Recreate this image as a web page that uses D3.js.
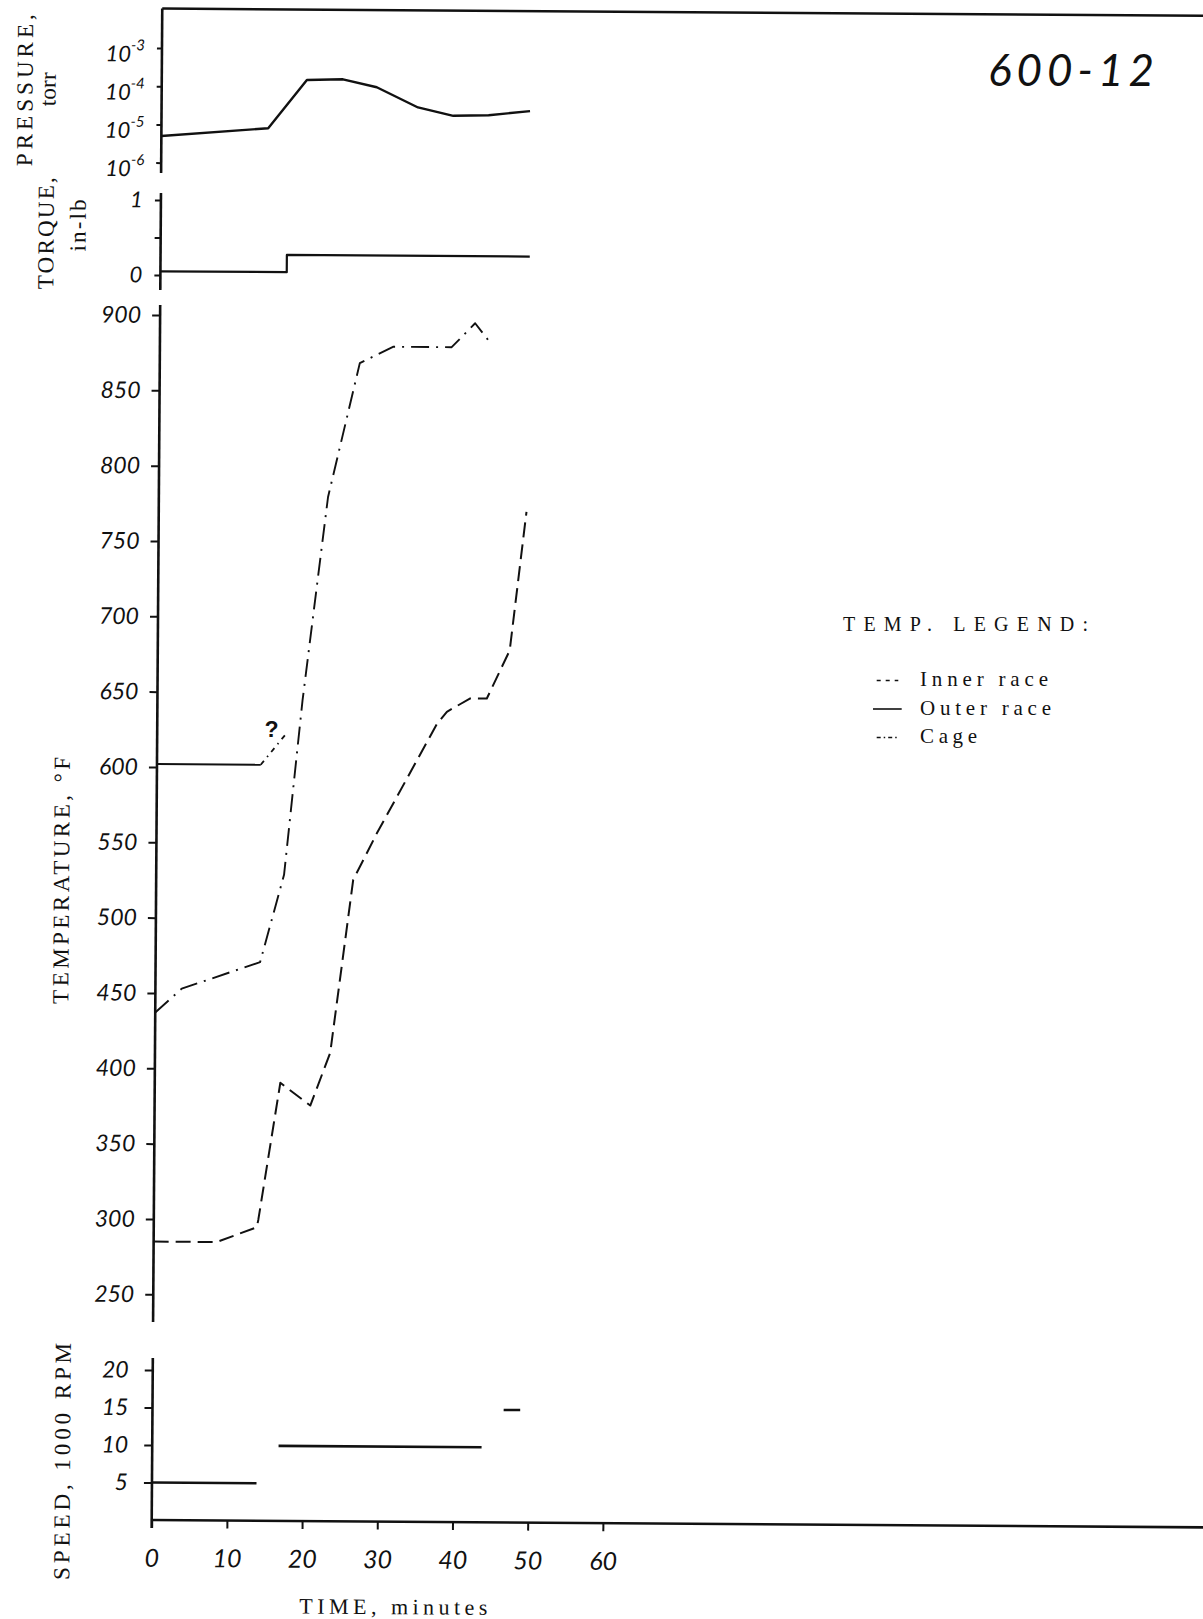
<!DOCTYPE html>
<html>
<head>
<meta charset="utf-8">
<script src="https://cdnjs.cloudflare.com/ajax/libs/d3/7.8.5/d3.min.js"></script>
<style>
  body { margin: 0; background: #fff; }
  svg { display: block; background: #fff; }
  .tick text { font-family: Lato, "Liberation Sans", sans-serif; font-style: italic; font-weight: 400; fill: #111; }
  .title { font-family: "Liberation Serif", serif; fill: #111; }
</style>
</head>
<body>
<svg id="chart" width="1203" height="1619"></svg>
<script>
// data {{{ //

const timeTicks = [0, 10, 20, 30, 40, 50, 60];

const pressureTicks = [1e-3, 1e-4, 1e-5, 1e-6];
const pressureTime = [0, 14.2, 19.3, 24.1, 28.6, 34.1, 38.8, 43.5, 49.0];
const pressureTorr = [5.0e-6, 8.3e-6, 1.55e-4, 1.64e-4, 1.03e-4, 3.1e-5, 1.9e-5, 2.0e-5, 2.6e-5];

const torqueTicks = [0, 0.5, 1];
const torqueTime = [0, 16.8, 16.8, 49.1];
const torqueValue = [0.05, 0.05, 0.28, 0.28];

const tempTicks = [250, 300, 350, 400, 450, 500, 550, 600, 650, 700, 750, 800, 850, 900];
const innerTime = [0, 8.4, 13.7, 13.9, 16.7, 20.7, 23.3, 26.2, 29.3, 37.2, 38.5, 41.6, 43.8, 46.8, 48.9];
const innerTemp = [285, 285, 295, 300, 391, 376, 411, 526, 557, 630, 638, 647, 647, 679, 771];
const outerTime = [0, 13.8];
const outerTemp = [602, 602];
const outerDoubtTime = [13.8, 17.2];
const outerDoubtTemp = [602, 623];
const cageTime = [0, 3.5, 13.9, 17.0, 19.3, 22.5, 26.6, 31.0, 38.8, 41.9, 44.1];
const cageTemp = [437, 453, 471, 529, 645, 780, 869, 880, 880, 896, 882];

const speedTicks = [5, 10, 15, 20];
const speedStart = [0, 16.8, 46.7];
const speedEnd = [13.9, 43.8, 48.9];
const speedValue = [5, 10, 15];

const legendNames = ["Inner race", "Outer race", "Cage"];

// }}} data //

const svg = d3.select("#chart");
// the scanned sheet sits slightly turned
const g = svg.append("g").attr("transform", "rotate(0.4, 151.7, 1520)");

// scales {{{ //

const x = d3.scaleLinear().domain([0, 60]).range([151.7, 602.9]);
const yP = d3.scaleLog().domain([1e-6, 1e-3]).range([162.6, 48]);
const yQ = d3.scaleLinear().domain([0, 1]).range([275, 200]);
const yT = d3.scaleLinear().domain([250, 900]).range([1294.3, 315]);
const yS = d3.scaleLinear().domain([0, 20]).range([1520, 1370]);

// }}} scales //

// frame lines {{{ //

const x0 = x(0);
const frame = [
  [x0, 8.5, 1240, 8.5],      // top border
  [x0, 8.5, x0, 173],        // pressure axis
  [x0, 193, x0, 290],        // torque axis
  [x0, 305, x0, 1322],       // temperature axis
  [x0, 1358, x0, 1528],      // speed axis
  [x0, 1520, 1240, 1520]     // time axis
];
g.append("g").selectAll("line")
  .data(frame)
  .enter().append("line")
  .attr("x1", d => d[0]).attr("y1", d => d[1])
  .attr("x2", d => d[2]).attr("y2", d => d[3])
  .attr("stroke", "#111")
  .attr("stroke-width", 2.6);

// }}} frame lines //

// axes {{{ //

function styleAxis(sel, size) {
  sel.select(".domain").remove();
  sel.selectAll(".tick line").attr("stroke", "#111").attr("stroke-width", 2);
  sel.selectAll(".tick text").style("font-size", size + "px");
}

const gP = g.append("g")
  .attr("transform", `translate(${x0},0)`)
  .call(d3.axisLeft(yP).tickValues(pressureTicks).tickSize(5).tickPadding(12))
  .call(styleAxis, 22);
gP.selectAll(".tick text").attr("dy", "0.6em").text(null).each(function(d) {
  const t = d3.select(this);
  t.append("tspan").text("10");
  t.append("tspan").attr("dy", "-0.75em").style("font-size", "15px")
    .text(String(Math.round(Math.log10(d))));
});

g.append("g")
  .attr("transform", `translate(${x0},0)`)
  .call(d3.axisLeft(yQ).tickValues(torqueTicks).tickSize(6).tickPadding(12)
    .tickFormat(d => d === 0.5 ? "" : d3.format("d")(d)))
  .call(styleAxis, 22);

g.append("g")
  .attr("transform", `translate(${x0},0)`)
  .call(d3.axisLeft(yT).tickValues(tempTicks).tickSize(8).tickPadding(11))
  .call(styleAxis, 23);

g.append("g")
  .attr("transform", `translate(${x0},0)`)
  .call(d3.axisLeft(yS).tickValues(speedTicks).tickSize(8).tickPadding(16))
  .call(styleAxis, 23);

g.append("g")
  .attr("transform", `translate(0,${yS(0)})`)
  .call(d3.axisBottom(x).tickValues(timeTicks).tickSize(8).tickPadding(21))
  .call(styleAxis, 25);

// }}} axes //

// axis titles {{{ //

const vTitles = [
  { text: "PRESSURE,", cx: 15, cy: 91, len: 152 },
  { text: "torr", cx: 38, cy: 90, len: 34 },
  { text: "TORQUE,", cx: 37, cy: 234, len: 112 },
  { text: "in-lb", cx: 69, cy: 226, len: 52 },
  { text: "TEMPERATURE, \u00b0F", cx: 57, cy: 881, len: 247 },
  { text: "SPEED, 1000 RPM", cx: 62, cy: 1462, len: 237 }
];
g.append("g").selectAll("text")
  .data(vTitles)
  .enter().append("text")
  .attr("class", "title")
  .attr("transform", d => `translate(${d.cx},${d.cy}) rotate(-90)`)
  .attr("text-anchor", "middle")
  .attr("dy", "0.33em")
  .attr("textLength", d => d.len)
  .attr("lengthAdjust", "spacing")
  .style("font-size", "23px")
  .text(d => d.text);

g.append("text")
  .attr("class", "title")
  .attr("x", 394).attr("y", 1612.5)
  .attr("text-anchor", "middle")
  .attr("textLength", 188)
  .attr("lengthAdjust", "spacing")
  .style("font-size", "22px")
  .text("TIME, minutes");

// }}} axis titles //

// curves {{{ //

function curve(ys, ts, vs) {
  return d3.line().x(d => x(d[0])).y(d => ys(d[1]))(d3.zip(ts, vs));
}

const marks = g.append("g").attr("fill", "none").attr("stroke", "#111")
  .attr("stroke-linejoin", "round");

marks.append("path")
  .attr("d", curve(yP, pressureTime, pressureTorr))
  .attr("stroke-width", 2.4);

marks.append("path")
  .attr("d", curve(yQ, torqueTime, torqueValue))
  .attr("stroke-width", 2.2);

marks.append("path")
  .attr("d", curve(yT, innerTime, innerTemp))
  .attr("stroke-width", 2)
  .attr("stroke-dasharray", "15,7");

marks.append("path")
  .attr("d", curve(yT, outerTime, outerTemp))
  .attr("stroke-width", 2);

marks.append("path")
  .attr("d", curve(yT, outerDoubtTime, outerDoubtTemp))
  .attr("stroke-width", 1.8)
  .attr("stroke-dasharray", "5,5,1.5,5");

marks.append("path")
  .attr("d", curve(yT, cageTime, cageTemp))
  .attr("stroke-width", 1.9)
  .attr("stroke-dasharray", "18,7,2,7");

marks.selectAll("line.speed")
  .data(d3.zip(speedStart, speedEnd, speedValue))
  .enter().append("line")
  .attr("class", "speed")
  .attr("x1", d => x(d[0])).attr("x2", d => x(d[1]))
  .attr("y1", d => yS(d[2])).attr("y2", d => yS(d[2]))
  .attr("stroke-width", 2.6);

g.append("text")
  .attr("x", x(15.2)).attr("y", yT(620.4))
  .attr("text-anchor", "middle")
  .style("font-family", "Liberation Sans, sans-serif")
  .style("font-weight", "bold")
  .style("font-size", "23px")
  .attr("fill", "#111")
  .text("?");

// }}} curves //

// legend and run number {{{ //

svg.append("text")
  .attr("x", 988).attr("y", 86)
  .attr("textLength", 166)
  .attr("lengthAdjust", "spacing")
  .style("font-family", "Lato, Liberation Sans, sans-serif")
  .style("font-style", "italic")
  .style("font-weight", 400)
  .style("font-size", "44px")
  .attr("fill", "#111")
  .text("600-12");

const legend = svg.append("g").attr("transform", "translate(843,0)");
legend.append("text")
  .attr("class", "title")
  .attr("x", 0).attr("y", 631)
  .attr("textLength", 245)
  .attr("lengthAdjust", "spacing")
  .style("font-size", "20px")
  .text("TEMP. LEGEND:");

const legendDash = ["4,5", null, "4,3,1.5,3"];
const legendLen = [128, 131, 57];
const rows = legend.selectAll("g.row")
  .data(legendNames)
  .enter().append("g")
  .attr("class", "row")
  .attr("transform", (d, i) => `translate(0,${686 + i * 28.5})`);
rows.append("line")
  .attr("x1", (d, i) => i === 1 ? 30 : 33.7)
  .attr("x2", (d, i) => i === 1 ? 58.7 : 55.3)
  .attr("y1", -5.5).attr("y2", -5.5)
  .attr("stroke", "#111")
  .attr("stroke-width", 1.6)
  .attr("stroke-dasharray", (d, i) => legendDash[i]);
rows.append("text")
  .attr("class", "title")
  .attr("x", 77)
  .attr("textLength", (d, i) => legendLen[i])
  .attr("lengthAdjust", "spacing")
  .style("font-size", "21px")
  .text(d => d);

// }}} legend and run number //
</script>
</body>
</html>
